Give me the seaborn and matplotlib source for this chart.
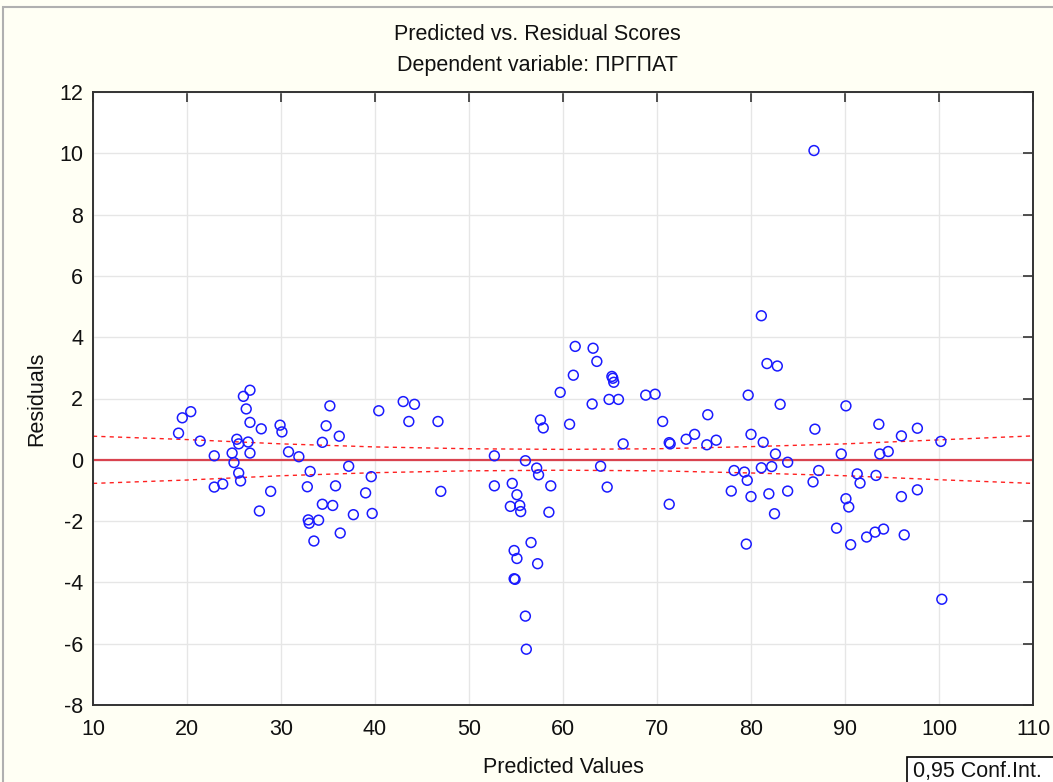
import matplotlib
matplotlib.use("Agg")
import matplotlib.pyplot as plt
import seaborn as sns
import pandas as pd
from matplotlib.patches import Rectangle

predicted = [19.1, 19.5, 20.4, 21.4, 22.9, 22.9, 23.8, 24.8, 25.0, 25.3, 25.5, 25.5, 25.7,
             26.0, 26.3, 26.5, 26.7, 26.7, 26.7, 27.7, 27.9, 28.9, 29.9, 30.1, 30.8, 31.9,
             33.1, 32.8, 32.9, 33.0, 33.5, 34.0, 34.4, 34.4, 34.8, 35.2, 35.5, 35.8, 36.2,
             36.3, 37.2, 37.7, 39.0, 39.6, 39.7, 40.4, 43.0, 43.6, 44.2, 46.7, 47.0,
             52.7, 52.7, 54.4, 54.6, 54.8, 54.8, 54.9, 55.1, 55.1, 55.4, 55.5, 56.0, 56.0,
             56.1, 56.6, 57.2, 57.3, 57.4, 57.6, 57.9, 58.5, 58.7, 59.7, 60.7, 61.1, 61.3,
             63.1, 63.2, 63.6, 64.0, 64.7, 64.9, 65.2, 65.3, 65.4, 65.9, 66.4, 68.8, 69.8,
             70.6, 71.3, 71.4, 71.3,
             73.1, 74.0, 75.3, 75.4, 76.3, 77.9, 78.2, 79.3, 79.5, 79.6, 79.7, 80.0, 80.0,
             81.1, 81.1, 81.3, 81.7, 81.9, 82.2, 82.5, 82.6, 82.8, 83.1, 83.9, 83.9, 86.6,
             86.7, 86.8, 87.2, 89.1, 89.6, 90.1, 90.1, 90.4, 90.6, 91.3, 91.6, 92.3, 93.2,
             93.3, 93.6, 93.7, 94.1, 94.6, 96.0, 96.0, 96.3, 97.7, 97.7, 100.2, 100.3]
residuals = [0.87, 1.37, 1.57, 0.61, 0.13, -0.89, -0.79, 0.22, -0.09, 0.67, 0.52, -0.43, -0.69,
             2.07, 1.66, 0.58, 2.27, 1.22, 0.22, -1.67, 1.01, -1.03, 1.13, 0.91, 0.26, 0.10,
             -0.38, -0.88, -1.96, -2.07, -2.65, -1.97, 0.57, -1.45, 1.11, 1.76, -1.49, -0.85, 0.77,
             -2.39, -0.21, -1.79, -1.08, -0.55, -1.75, 1.60, 1.90, 1.25, 1.81, 1.25, -1.03,
             0.13, -0.85, -1.52, -0.77, -2.96, -3.88, -3.90, -1.14, -3.22, -1.49, -1.69, -0.03, -5.10,
             -6.18, -2.70, -0.27, -3.39, -0.49, 1.30, 1.04, -1.71, -0.85, 2.20, 1.16, 2.76, 3.70,
             1.82, 3.64, 3.21, -0.21, -0.89, 1.97, 2.72, 2.66, 2.53, 1.97, 0.52, 2.11, 2.14,
             1.25, 0.56, 0.52, -1.45,
             0.67, 0.83, 0.49, 1.47, 0.64, -1.02, -0.35, -0.40, -2.75, -0.67, 2.11, 0.83, -1.20,
             4.70, -0.26, 0.57, 3.14, -1.11, -0.22, -1.76, 0.19, 3.06, 1.81, -0.08, -1.02, -0.72,
             10.09, 1.00, -0.35, -2.23, 0.19, 1.76, -1.27, -1.54, -2.77, -0.46, -0.76, -2.52, -2.36,
             -0.51, 1.16, 0.19, -2.26, 0.27, 0.78, -1.20, -2.45, 1.03, -0.98, 0.60, -4.55]

band_x = [10, 20, 30, 40, 50, 60, 70, 80, 90, 100, 110]
band_upper = [0.77, 0.66, 0.52, 0.42, 0.36, 0.34, 0.36, 0.43, 0.52, 0.65, 0.78]
band_lower = [-0.77, -0.66, -0.52, -0.42, -0.36, -0.34, -0.36, -0.43, -0.52, -0.65, -0.77]
fit_x = [10, 110]
fit_y = [0.0, 0.0]

x_ticks = [10, 20, 30, 40, 50, 60, 70, 80, 90, 100, 110]
y_ticks = [-8, -6, -4, -2, 0, 2, 4, 6, 8, 10, 12]

sns.set_style("white")
plt.rcParams['font.family'] = ['Liberation Sans', 'DejaVu Sans']
plt.rcParams['axes.unicode_minus'] = False
plt.rcParams['text.color'] = '#111111'
plt.rcParams['axes.labelcolor'] = '#111111'
plt.rcParams['xtick.labelcolor'] = '#111111'
plt.rcParams['ytick.labelcolor'] = '#111111'

fig = plt.figure(figsize=(10.53, 7.82), dpi=100, facecolor='#fffff4')
ax = fig.add_axes([93/1053, 1-705/782, (1033-93)/1053, (705-92)/782])
ax.set_facecolor('white')

df = pd.DataFrame({'Predicted': predicted, 'Residual': residuals})
band = pd.DataFrame({'x': band_x, 'up': band_upper, 'lo': band_lower})
fit = pd.DataFrame({'x': fit_x, 'y': fit_y})

sns.lineplot(data=fit, x='x', y='y', ax=ax, color='#d9434f', linewidth=1.6, zorder=2)
sns.lineplot(data=band, x='x', y='up', ax=ax, color='#ff2020', linewidth=1.0,
             linestyle=(0, (3, 3)), zorder=2)
sns.lineplot(data=band, x='x', y='lo', ax=ax, color='#ff2020', linewidth=1.0,
             linestyle=(0, (3, 3)), zorder=2)
sns.scatterplot(data=df, x='Predicted', y='Residual', ax=ax, marker='o', s=50,
                facecolor='none', edgecolor='#1a1aff', linewidth=1.1, zorder=3)

ax.set_xlim(10, 110)
ax.set_ylim(-8, 12)
ax.set_xticks(x_ticks)
ax.set_yticks(y_ticks)
ax.grid(True, color='#e6e6e6', linewidth=1.0, zorder=0)
ax.set_axisbelow(True)
ax.tick_params(direction='in', length=7, width=1.2, color='#333333',
               top=True, right=True, labelsize=15.5)
ax.tick_params(axis='x', pad=10)
ax.tick_params(axis='y', pad=7)
for s in ax.spines.values():
    s.set_color('#333333')
    s.set_linewidth(1.4)

ax.set_xlabel('Predicted Values', fontsize=15.5, labelpad=12)
ax.set_ylabel('Residuals', fontsize=15.5, labelpad=9)

fig.text(537/1053, 1-34/782, 'Predicted vs. Residual Scores', ha='center', va='center', fontsize=15.5)
fig.text(537/1053, 1-65/782, 'Dependent variable: ПРГПАТ', ha='center', va='center', fontsize=15.5)

fig.patches.append(Rectangle((907/1053, -0.1), 0.5, 0.1 + 1 - 757/782, transform=fig.transFigure,
                             facecolor='white', edgecolor='black', linewidth=1.2))
fig.text(913/1053, 1-771/782, '0,95 Conf.Int.', ha='left', va='center', fontsize=15.5)

fig.patches.append(Rectangle((3/1053, -0.1), 1.2, 1 - 7/782 + 0.1, transform=fig.transFigure,
                             fill=False, edgecolor='#b0b0b0', linewidth=1.5))

fig.savefig('out.png', dpi=100, facecolor=fig.get_facecolor())
